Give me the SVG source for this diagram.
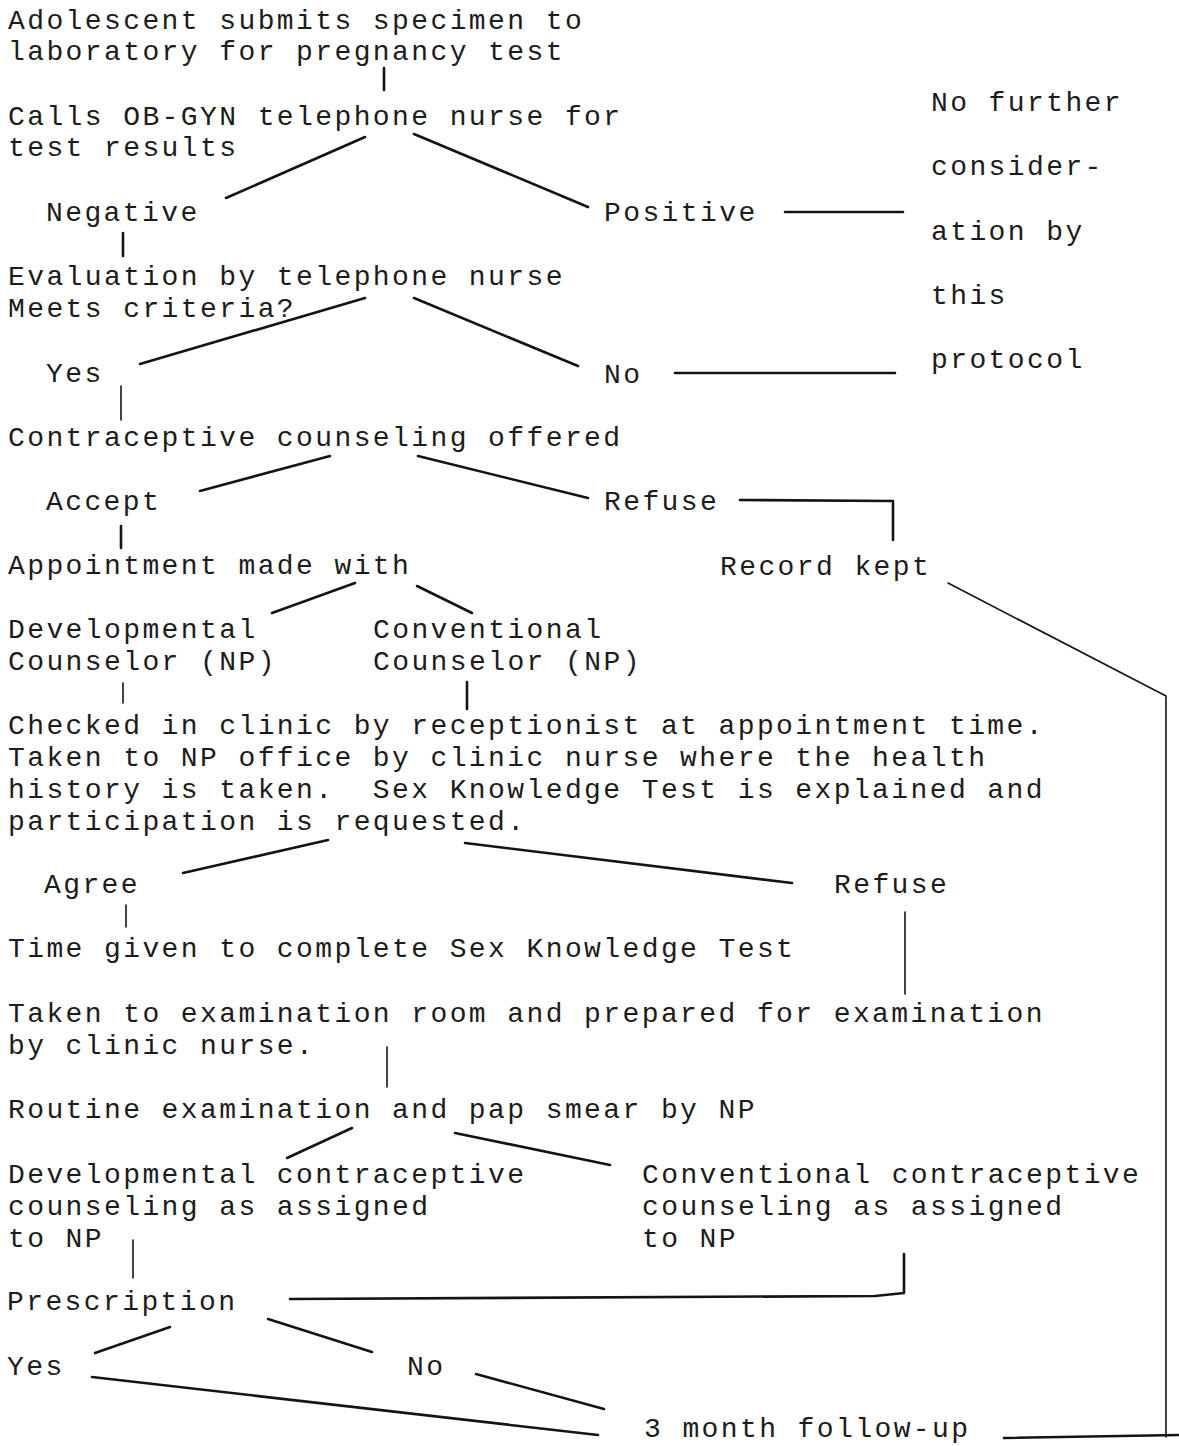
<svg xmlns="http://www.w3.org/2000/svg" width="1179" height="1446" viewBox="0 0 1179 1446">
<style>
text{font-family:"Liberation Mono","DejaVu Sans Mono",monospace;font-size:28px;letter-spacing:2.4px;fill:#1c1c1c;white-space:pre}
.c line,.c polyline{stroke:#141414;stroke-width:2.6;fill:none;stroke-linecap:round;stroke-linejoin:round}
.t{stroke-width:1.6 !important}
</style>
<rect width="1179" height="1446" fill="#ffffff"/>
<g class="c" id="connectors">
<line x1="384" y1="68" x2="384" y2="90"/>
<line x1="365" y1="137" x2="226" y2="198"/>
<line x1="414" y1="134" x2="588" y2="207"/>
<line x1="785" y1="212" x2="903" y2="212"/>
<line x1="123" y1="233" x2="123" y2="256"/>
<line x1="365" y1="298" x2="140" y2="364"/>
<line x1="414" y1="298" x2="578" y2="366"/>
<line x1="675" y1="373" x2="895" y2="373"/>
<line class="t" x1="121" y1="386" x2="121" y2="420"/>
<line x1="330" y1="456" x2="200" y2="491"/>
<line x1="418" y1="456" x2="588" y2="498"/>
<polyline points="740,500 893,501 893,540"/>
<line x1="121" y1="526" x2="121" y2="548"/>
<line x1="355" y1="583" x2="272" y2="613"/>
<line x1="417" y1="586" x2="472" y2="613"/>
<line class="t" x1="123" y1="683" x2="123" y2="703"/>
<line x1="467" y1="682" x2="467" y2="709"/>
<polyline class="t" points="948,583 1166,696 1166,1437"/>
<line x1="1004" y1="1438" x2="1179" y2="1435"/>
<line x1="328" y1="840" x2="183" y2="873"/>
<line x1="465" y1="843" x2="792" y2="883"/>
<line class="t" x1="126" y1="905" x2="126" y2="927"/>
<line class="t" x1="905" y1="912" x2="905" y2="994"/>
<line class="t" x1="387" y1="1047" x2="387" y2="1087"/>
<line x1="352" y1="1128" x2="287" y2="1158"/>
<line x1="455" y1="1133" x2="610" y2="1165"/>
<line class="t" x1="133" y1="1240" x2="133" y2="1278"/>
<polyline points="290,1299 875,1296 904,1293 904,1254"/>
<line x1="170" y1="1327" x2="95" y2="1353"/>
<line x1="268" y1="1319" x2="372" y2="1352"/>
<line x1="92" y1="1377" x2="598" y2="1435"/>
<line x1="476" y1="1374" x2="604" y2="1409"/>
</g>
<g id="n-specimen"><text x="8" y="29">Adolescent submits specimen to</text><text x="8" y="60">laboratory for pregnancy test</text></g>
<g id="n-calls"><text x="8" y="125">Calls OB-GYN telephone nurse for</text><text x="8" y="156">test results</text></g>
<g id="n-negative"><text x="46" y="221">Negative</text></g>
<g id="n-positive"><text x="604" y="221">Positive</text></g>
<g id="n-nofurther"><text x="931" y="111">No further</text><text x="931" y="175">consider-</text><text x="931" y="240">ation by</text><text x="931" y="304">this</text><text x="931" y="368">protocol</text></g>
<g id="n-evaluation"><text x="8" y="285">Evaluation by telephone nurse</text><text x="8" y="317">Meets criteria?</text></g>
<g id="n-yes1"><text x="46" y="382">Yes</text></g>
<g id="n-no1"><text x="604" y="383">No</text></g>
<g id="n-counseling"><text x="8" y="446">Contraceptive counseling offered</text></g>
<g id="n-accept"><text x="46" y="510">Accept</text></g>
<g id="n-refuse1"><text x="604" y="510">Refuse</text></g>
<g id="n-record"><text x="720" y="575">Record kept</text></g>
<g id="n-appointment"><text x="8" y="574">Appointment made with</text></g>
<g id="n-devcounselor"><text x="8" y="638">Developmental</text><text x="8" y="670">Counselor (NP)</text></g>
<g id="n-convcounselor"><text x="373" y="638">Conventional</text><text x="373" y="670">Counselor (NP)</text></g>
<g id="n-checked"><text x="8" y="734">Checked in clinic by receptionist at appointment time.</text><text x="8" y="766">Taken to NP office by clinic nurse where the health</text><text x="8" y="798">history is taken.  Sex Knowledge Test is explained and</text><text x="8" y="830">participation is requested.</text></g>
<g id="n-agree"><text x="44" y="893">Agree</text></g>
<g id="n-refuse2"><text x="834" y="893">Refuse</text></g>
<g id="n-time"><text x="8" y="957">Time given to complete Sex Knowledge Test</text></g>
<g id="n-taken"><text x="8" y="1022">Taken to examination room and prepared for examination</text><text x="8" y="1054">by clinic nurse.</text></g>
<g id="n-routine"><text x="8" y="1118">Routine examination and pap smear by NP</text></g>
<g id="n-devcontra"><text x="8" y="1183">Developmental contraceptive</text><text x="8" y="1215">counseling as assigned</text><text x="8" y="1247">to NP</text></g>
<g id="n-convcontra"><text x="642" y="1183">Conventional contraceptive</text><text x="642" y="1215">counseling as assigned</text><text x="642" y="1247">to NP</text></g>
<g id="n-prescription"><text x="7" y="1310">Prescription</text></g>
<g id="n-yes2"><text x="7" y="1375">Yes</text></g>
<g id="n-no2"><text x="407" y="1375">No</text></g>
<g id="n-followup"><text x="644" y="1437">3 month follow-up</text></g>
</svg>
